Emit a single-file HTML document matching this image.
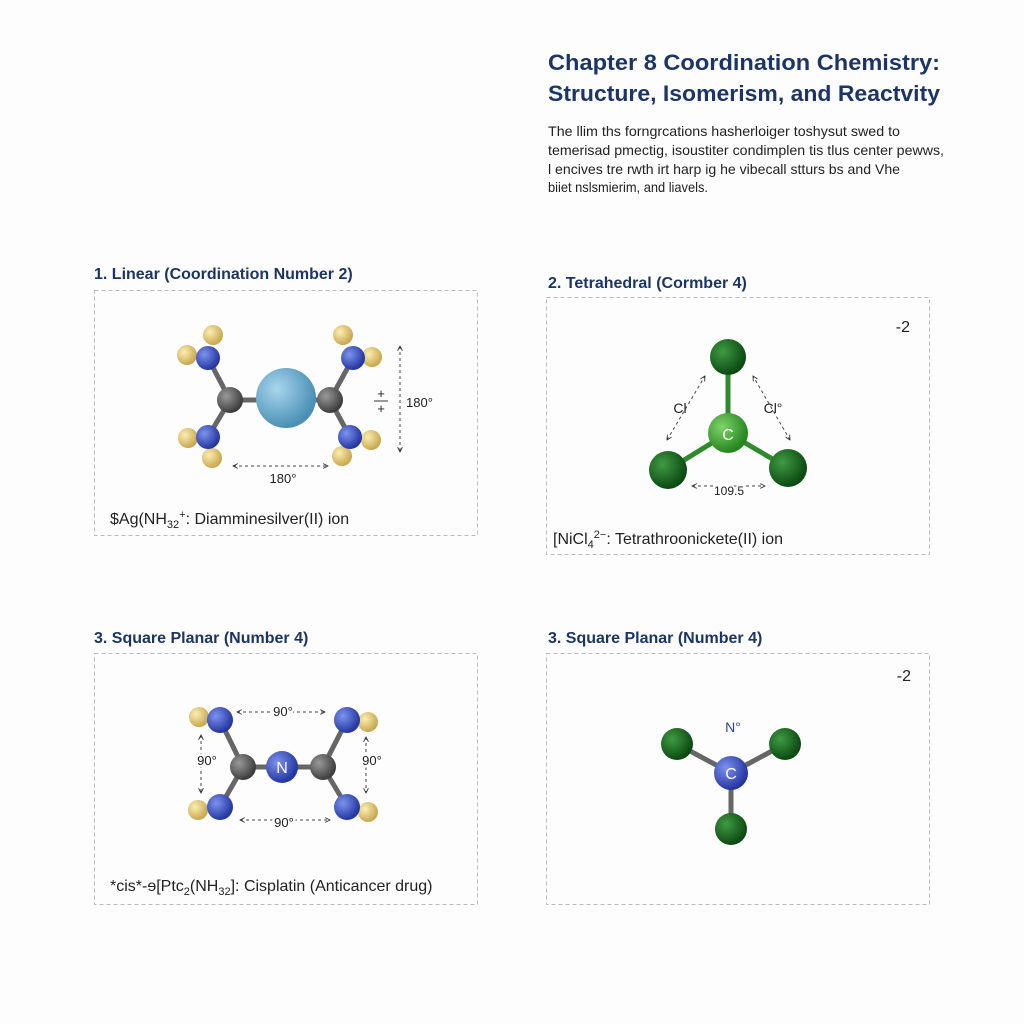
<!DOCTYPE html>
<html><head><meta charset="utf-8"><style>
html,body{margin:0;padding:0;background:#fdfdfd;}
svg{display:block}
text{font-family:"Liberation Sans",sans-serif;}
</style></head><body>
<svg width="1024" height="1024" viewBox="0 0 1024 1024" xmlns="http://www.w3.org/2000/svg">
<defs>
<radialGradient id="gH" cx="35%" cy="35%" r="65%"><stop offset="0" stop-color="#fbeeb0"/><stop offset="1" stop-color="#c9a850"/></radialGradient>
<radialGradient id="gN" cx="35%" cy="35%" r="65%"><stop offset="0" stop-color="#7d92ee"/><stop offset="1" stop-color="#2436a0"/></radialGradient>
<radialGradient id="gC" cx="35%" cy="35%" r="65%"><stop offset="0" stop-color="#9a9a9a"/><stop offset="1" stop-color="#3d3d3d"/></radialGradient>
<radialGradient id="gAg" cx="35%" cy="35%" r="65%"><stop offset="0" stop-color="#a8d6ee"/><stop offset="1" stop-color="#4a90b5"/></radialGradient>
<radialGradient id="gG" cx="35%" cy="35%" r="65%"><stop offset="0" stop-color="#3f9a43"/><stop offset="1" stop-color="#0c4a12"/></radialGradient>
<radialGradient id="gG2" cx="35%" cy="35%" r="65%"><stop offset="0" stop-color="#7fd46a"/><stop offset="1" stop-color="#25851f"/></radialGradient>
<marker id="ar" viewBox="0 0 10 10" refX="9" refY="5" markerWidth="6" markerHeight="6" orient="auto-start-reverse"><path d="M1,1 L9,5 L1,9" fill="none" stroke="#333" stroke-width="1.5"/></marker>
</defs>
<rect width="1024" height="1024" fill="#fdfdfd"/>

<text x="548" y="70" font-size="22" font-weight="bold" fill="#1c3566" textLength="392" lengthAdjust="spacingAndGlyphs">Chapter 8 Coordination Chemistry:</text>
<text x="548" y="101" font-size="22" font-weight="bold" fill="#1c3566" textLength="392" lengthAdjust="spacingAndGlyphs">Structure, Isomerism, and Reactvity</text>
<g font-size="14" fill="#222">
<text x="548" y="136" textLength="352" lengthAdjust="spacingAndGlyphs">The llim ths forngrcations hasherloiger toshysut swed to</text>
<text x="548" y="155" textLength="396" lengthAdjust="spacingAndGlyphs">temerisad pmectig, isoustiter condimplen tis tlus center pewws,</text>
<text x="548" y="174" textLength="352" lengthAdjust="spacingAndGlyphs">l encives tre rwth irt harp ig he vibecall stturs bs and Vhe</text>
<text x="548" y="192" textLength="160" lengthAdjust="spacingAndGlyphs">biiet nslsmierim, and liavels.</text>
</g>

<g font-size="16" font-weight="bold" fill="#1c3566">
<text x="94" y="279">1. Linear (Coordination Number 2)</text>
<text x="548" y="288">2. Tetrahedral (Cormber 4)</text>
<text x="94" y="643">3. Square Planar (Number 4)</text>
<text x="548" y="643">3. Square Planar (Number 4)</text>
</g>
<g fill="none" stroke="#b8bcc0" stroke-dasharray="4,3">
<rect x="94.5" y="290.5" width="383" height="245"/>
<rect x="546.5" y="297.5" width="383" height="257"/>
<rect x="94.5" y="653.5" width="383" height="251"/>
<rect x="546.5" y="653.5" width="383" height="251"/>
</g>

<!-- Panel 1 -->
<g stroke="#666" stroke-width="5">
<line x1="230" y1="400" x2="330" y2="400"/>
<line x1="230" y1="400" x2="208" y2="358"/><line x1="230" y1="400" x2="208" y2="437"/>
<line x1="330" y1="400" x2="353" y2="358"/><line x1="330" y1="400" x2="350" y2="437"/>
</g>
<g fill="url(#gH)">
<circle cx="187" cy="355" r="10"/><circle cx="213" cy="335" r="10"/><circle cx="343" cy="335" r="10"/><circle cx="372" cy="357" r="10"/>
<circle cx="188" cy="438" r="10"/><circle cx="212" cy="458" r="10"/><circle cx="342" cy="456" r="10"/><circle cx="371" cy="440" r="10"/>
</g>
<g fill="url(#gN)">
<circle cx="208" cy="358" r="12"/><circle cx="353" cy="358" r="12"/><circle cx="208" cy="437" r="12"/><circle cx="350" cy="437" r="12"/>
</g>
<circle cx="230" cy="400" r="13" fill="url(#gC)"/><circle cx="330" cy="400" r="13" fill="url(#gC)"/>
<circle cx="286" cy="398" r="30" fill="url(#gAg)"/>
<g stroke="#444" stroke-width="1" stroke-dasharray="3,3" fill="none" marker-start="url(#ar)" marker-end="url(#ar)">
<line x1="233" y1="466" x2="328" y2="466"/>
<line x1="400" y1="346" x2="400" y2="452"/>
</g>
<g font-size="13" fill="#222">
<text x="283" y="483" text-anchor="middle">180°</text>
<text x="406" y="407">180°</text>
<text x="381" y="398" text-anchor="middle">+</text><line x1="374" y1="401" x2="388" y2="401" stroke="#333"/><text x="381" y="413" text-anchor="middle">+</text>
</g>
<text x="110" y="524" font-size="16" fill="#222">$Ag(NH<tspan font-size="11" dy="4">32</tspan><tspan font-size="11" dy="-10">+</tspan><tspan dy="6">: Diamminesilver(II) ion</tspan></text>

<!-- Panel 2 -->
<text x="910" y="332" font-size="16" fill="#222" text-anchor="end">-2</text>
<g stroke="#2e8a2a" stroke-width="5">
<line x1="728" y1="357" x2="728" y2="433"/><line x1="728" y1="433" x2="668" y2="470"/><line x1="728" y1="433" x2="788" y2="468"/>
</g>
<circle cx="728" cy="357" r="18" fill="url(#gG)"/>
<circle cx="668" cy="470" r="19" fill="url(#gG)"/>
<circle cx="788" cy="468" r="19" fill="url(#gG)"/>
<circle cx="728" cy="433" r="20" fill="url(#gG2)"/>
<text x="728" y="440" font-size="16" fill="#fff" text-anchor="middle">C</text>
<g stroke="#444" stroke-width="1" stroke-dasharray="3,3" fill="none" marker-start="url(#ar)" marker-end="url(#ar)">
<line x1="667" y1="440" x2="705" y2="376"/>
<line x1="790" y1="440" x2="753" y2="376"/>
<line x1="692" y1="486" x2="765" y2="486"/>
</g>
<g font-size="14" fill="#222">
<text x="680" y="413" text-anchor="middle">Cl</text>
<text x="773" y="413" text-anchor="middle">Cl°</text>
<text x="729" y="495" font-size="12" text-anchor="middle" fill="#222" style="paint-order:stroke" stroke="#fdfdfd" stroke-width="4">109.5</text>
</g>
<text x="553" y="544" font-size="16" fill="#222">[NiCl<tspan font-size="11" dy="4">4</tspan><tspan font-size="11" dy="-10">2−</tspan><tspan dy="6">: Tetrathroonickete(II) ion</tspan></text>

<!-- Panel 3 -->
<g stroke="#666" stroke-width="5">
<line x1="243" y1="767" x2="323" y2="767"/>
<line x1="243" y1="767" x2="220" y2="720"/><line x1="243" y1="767" x2="220" y2="807"/>
<line x1="323" y1="767" x2="347" y2="720"/><line x1="323" y1="767" x2="347" y2="807"/>
</g>
<g fill="url(#gH)">
<circle cx="199" cy="717" r="10"/><circle cx="368" cy="722" r="10"/><circle cx="198" cy="810" r="10"/><circle cx="368" cy="812" r="10"/>
</g>
<g fill="url(#gN)">
<circle cx="220" cy="720" r="13"/><circle cx="347" cy="720" r="13"/><circle cx="220" cy="807" r="13"/><circle cx="347" cy="807" r="13"/>
<circle cx="282" cy="767" r="16"/>
</g>
<circle cx="243" cy="767" r="13" fill="url(#gC)"/><circle cx="323" cy="767" r="13" fill="url(#gC)"/>
<text x="282" y="773" font-size="16" fill="#fff" text-anchor="middle">N</text>
<g stroke="#444" stroke-width="1" stroke-dasharray="3,3" fill="none" marker-start="url(#ar)" marker-end="url(#ar)">
<line x1="237" y1="712" x2="325" y2="712"/>
<line x1="240" y1="820" x2="330" y2="820"/>
<line x1="201" y1="735" x2="201" y2="793"/>
<line x1="366" y1="737" x2="366" y2="793"/>
</g>
<g font-size="13" fill="#222" text-anchor="middle" style="paint-order:stroke" stroke="#fdfdfd" stroke-width="5">
<text x="283" y="716">90°</text>
<text x="284" y="827">90°</text>
<text x="207" y="765">90°</text>
<text x="372" y="765">90°</text>
</g>
<text x="110" y="891" font-size="16" fill="#222">*cis*-ɘ[Ptc<tspan font-size="11" dy="4">2</tspan><tspan dy="-4">(NH</tspan><tspan font-size="11" dy="4">32</tspan><tspan dy="-4">]: Cisplatin (Anticancer drug)</tspan></text>

<!-- Panel 4 -->
<text x="911" y="681" font-size="16" fill="#222" text-anchor="end">-2</text>
<g stroke="#666" stroke-width="5">
<line x1="731" y1="773" x2="677" y2="744"/><line x1="731" y1="773" x2="785" y2="744"/><line x1="731" y1="773" x2="731" y2="829"/>
</g>
<circle cx="677" cy="744" r="16" fill="url(#gG)"/>
<circle cx="785" cy="744" r="16" fill="url(#gG)"/>
<circle cx="731" cy="829" r="16" fill="url(#gG)"/>
<circle cx="731" cy="773" r="17" fill="url(#gN)"/>
<text x="731" y="779" font-size="16" fill="#fff" text-anchor="middle">C</text>
<text x="733" y="732" font-size="14" fill="#2a3fb0" text-anchor="middle">N°</text>
</svg>
</body></html>
